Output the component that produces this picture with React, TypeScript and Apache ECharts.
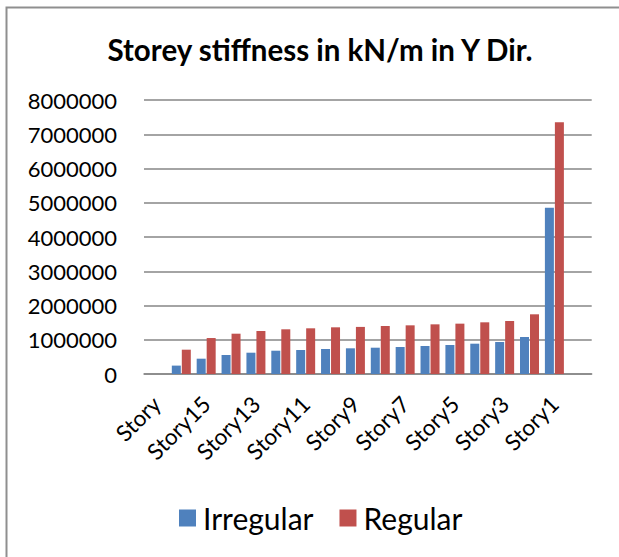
import React, { useEffect, useRef } from "react";
import * as echarts from "echarts";

const categories = [
  "Story", "Story16", "Story15", "Story14", "Story13", "Story12", "Story11", "Story10",
  "Story9", "Story8", "Story7", "Story6", "Story5", "Story4", "Story3", "Story2", "Story1", "Base",
];
const irregular = [
  null, 245000, 447000, 555000, 622000, 680000, 700000, 730000,
  750000, 768000, 788000, 818000, 847000, 885000, 934000, 1080000, 4856000, null,
];
const regular = [
  null, 710000, 1050000, 1177000, 1255000, 1305000, 1334000, 1363000,
  1375000, 1401000, 1421000, 1450000, 1470000, 1509000, 1547000, 1743000, 7349000, null,
];
const seriesNames = ["Irregular", "Regular"];
const yTicks = { min: 0, max: 8000000, interval: 1000000 };

export default function App() {
  const ref = useRef<HTMLDivElement>(null);
  useEffect(() => {
    if (!ref.current) return;
    const chart = echarts.init(ref.current, undefined, { renderer: "svg" });
    const font = "Lato, 'Open Sans', sans-serif";
    chart.setOption({
      animation: false,
      backgroundColor: "#ffffff",
      title: {
        text: "Storey stiffness in kN/m in Y Dir.",
        left: 315,
        textAlign: "center",
        top: 29,
        textStyle: { fontFamily: font, fontWeight: "bold", fontSize: 29.5, color: "#000" },
      },
      graphic: [
        {
          type: "rect",
          shape: { x: 6.5, y: 7.5, width: 700, height: 700 },
          style: { fill: "none", stroke: "#8f8f8f", lineWidth: 2 },
          silent: true,
        },
      ],
      legend: {
        data: seriesNames,
        left: 174,
        top: 497,
        itemWidth: 17,
        itemHeight: 17,
        itemGap: 26,
        icon: "rect",
        textStyle: { fontFamily: font, fontSize: 30, color: "#000", lineHeight: 32, padding: [0, 0, 0, 2] },
      },
      grid: { left: 144, top: 100, width: 447.7, height: 274, containLabel: false },
      xAxis: {
        type: "category",
        data: categories,
        axisLine: { show: true, lineStyle: { color: "#868686", width: 1.5 } },
        axisTick: { show: false },
        axisLabel: {
          interval: 1,
          rotate: 45,
          margin: 26,
          fontFamily: font,
          fontSize: 22.5,
          color: "#000",
        },
      },
      yAxis: {
        type: "value",
        min: yTicks.min,
        max: yTicks.max,
        interval: yTicks.interval,
        axisLine: { show: false },
        axisTick: { show: false },
        splitLine: { lineStyle: { color: "#868686", width: 1.5 } },
        axisLabel: {
          margin: 27,
          fontFamily: font,
          fontSize: 22,
          color: "#000",
          formatter: (v: number) => String(v),
        },
      },
      series: [
        {
          name: seriesNames[0],
          type: "bar",
          data: irregular,
          barWidth: 9,
          barGap: "11%",
          itemStyle: { color: "#4F81BD" },
        },
        {
          name: seriesNames[1],
          type: "bar",
          data: regular,
          barWidth: 9,
          itemStyle: { color: "#C0504D" },
        },
      ],
    });
    return () => chart.dispose();
  }, []);
  return (
    <div
      ref={ref}
      style={{ position: "fixed", left: 0, top: 0, width: 619, height: 557, background: "#fff" }}
    />
  );
}
